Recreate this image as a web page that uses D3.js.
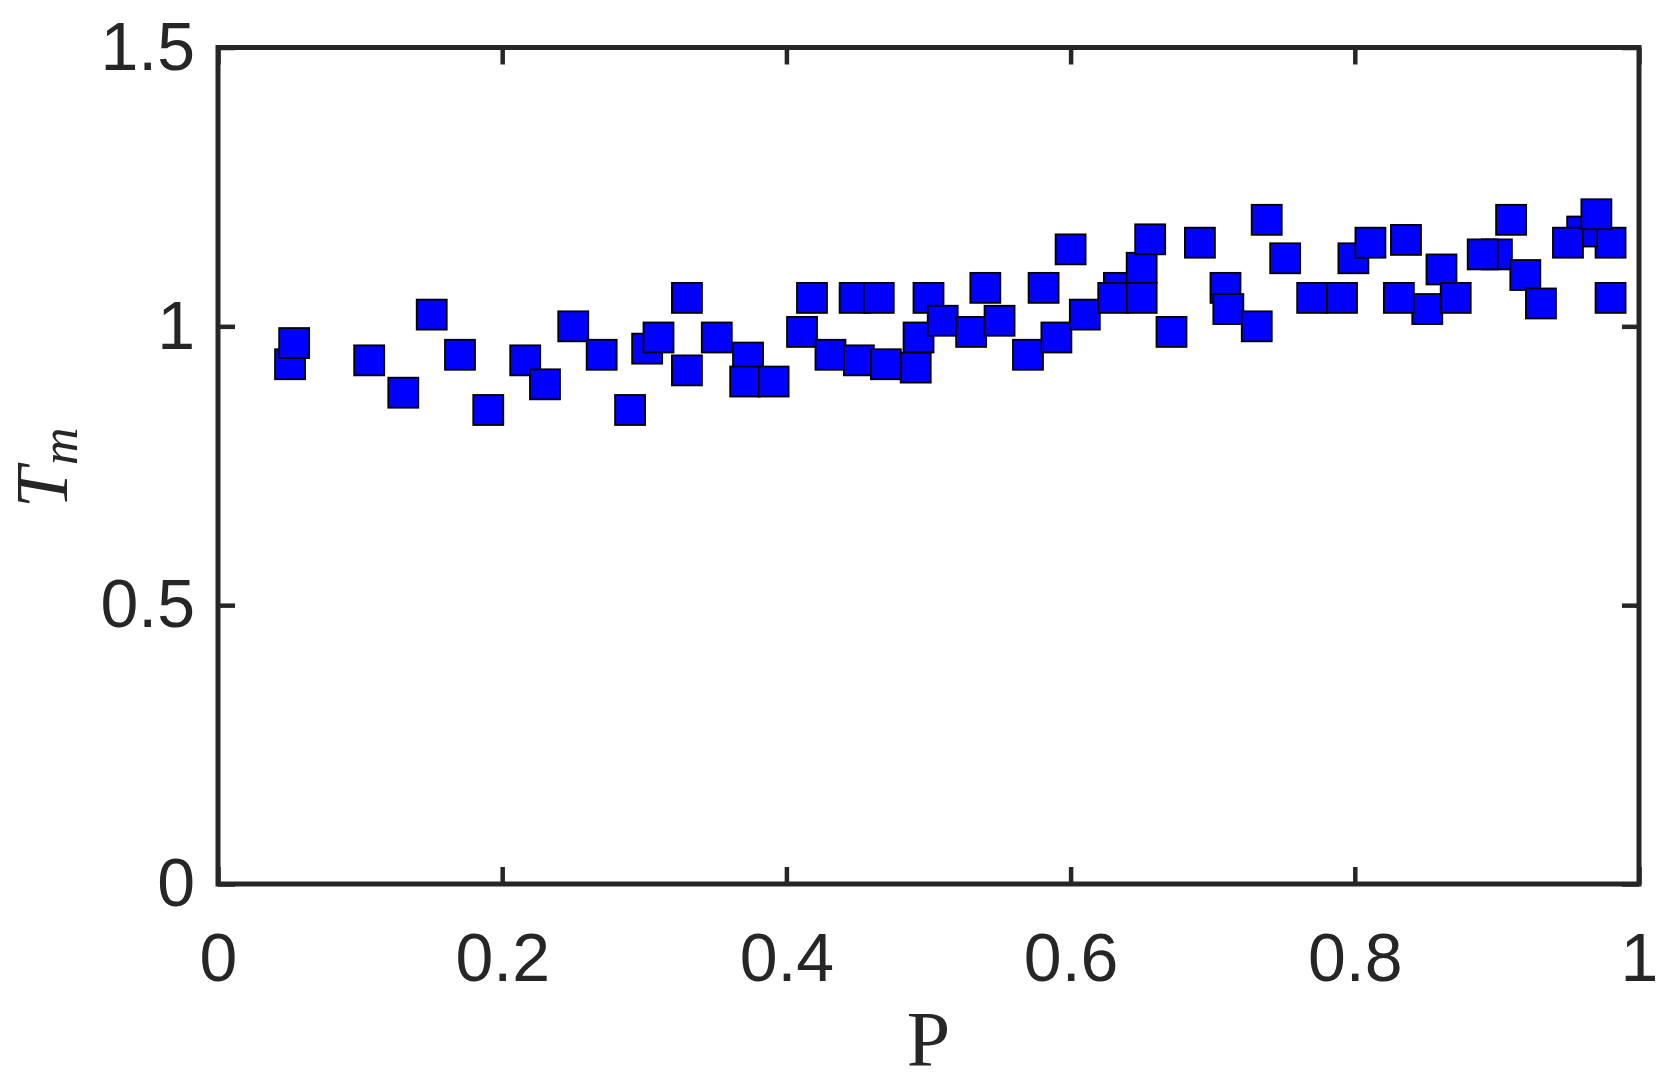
<!DOCTYPE html>
<html>
<head>
<meta charset="utf-8">
<script src="https://cdn.jsdelivr.net/npm/d3@7"></script>
<style>
  body { margin: 0; background: #fff; }
  .tick text { font-family: "Liberation Sans", Arial, Helvetica, sans-serif; font-size: 68px; fill: #262626; }
  .tick line { stroke: #262626; stroke-width: 4.5; }
</style>
</head>
<body>
<svg width="1669" height="1082"></svg>
<script>
// data (P, Tm), in drawing order
var pValues = [0.0507, 0.0536, 0.1064, 0.1304, 0.1504, 0.1703, 0.1902, 0.2162, 0.2301, 0.250,
               0.270, 0.290, 0.302, 0.310, 0.330, 0.330, 0.351, 0.373, 0.371, 0.391,
               0.411, 0.418, 0.431, 0.448, 0.465, 0.451, 0.470, 0.493, 0.491, 0.500,
               0.510, 0.530, 0.540, 0.550, 0.570, 0.581, 0.600, 0.590, 0.610, 0.634,
               0.630, 0.650, 0.650, 0.656, 0.671, 0.691, 0.709, 0.711, 0.731, 0.738,
               0.751, 0.770, 0.791, 0.799, 0.811, 0.836, 0.851, 0.831, 0.861, 0.871,
               0.900, 0.890, 0.910, 0.920, 0.931, 0.980, 0.960, 0.950, 0.970, 0.980];
var tmValues = [0.932, 0.970, 0.939, 0.881, 1.021, 0.949, 0.850, 0.939, 0.896, 1.000,
                0.949, 0.850, 0.960, 0.980, 1.051, 0.921, 0.980, 0.944, 0.901, 0.901,
                0.990, 1.051, 0.949, 1.051, 1.051, 0.939, 0.932, 0.980, 0.926, 1.051,
                1.010, 0.990, 1.069, 1.010, 0.949, 1.069, 1.138, 0.980, 1.021, 1.069,
                1.051, 1.105, 1.051, 1.156, 0.990, 1.150, 1.069, 1.031, 1.000, 1.191,
                1.122, 1.051, 1.051, 1.122, 1.150, 1.155, 1.031, 1.051, 1.102, 1.051,
                1.129, 1.129, 1.191, 1.092, 1.041, 1.150, 1.170, 1.150, 1.201, 1.051];
var xTicks = [0, 0.2, 0.4, 0.6, 0.8, 1];
var xTickLabels = ["0", "0.2", "0.4", "0.6", "0.8", "1"];
var yTicks = [0, 0.5, 1, 1.5];
var yTickLabels = ["0", "0.5", "1", "1.5"];

var svg = d3.select("svg");

var x = d3.scaleLinear().domain([0, 1]).range([218, 1639]);
var y = d3.scaleLinear().domain([0, 1.5]).range([884, 47.5]);

var pts = pValues.map(function(p, i) { return {p: p, t: tmValues[i]}; });

// markers
var side = 30;
svg.append("g").selectAll("rect")
  .data(pts)
  .enter().append("rect")
    .attr("x", function(d) { return x(d.p) - side / 2; })
    .attr("y", function(d) { return y(d.t) - side / 2; })
    .attr("width", side)
    .attr("height", side)
    .attr("fill", "#0000ff")
    .attr("stroke", "#000")
    .attr("stroke-width", 1.8);

// axes, ticks pointing inward on all four sides
svg.append("g")
    .attr("transform", "translate(0," + y(0) + ")")
    .call(d3.axisBottom(x).tickValues(xTicks).tickSizeInner(-17).tickSizeOuter(0).tickPadding(49)
      .tickFormat(function(d, i) { return xTickLabels[i]; }))
  .select(".domain").remove();

svg.append("g")
    .attr("transform", "translate(0," + y(1.5) + ")")
    .call(d3.axisTop(x).tickValues(xTicks).tickSizeInner(-17).tickSizeOuter(0).tickFormat(""))
  .select(".domain").remove();

svg.append("g")
    .attr("transform", "translate(" + x(0) + ",0)")
    .call(d3.axisLeft(y).tickValues(yTicks).tickSizeInner(-17).tickSizeOuter(0).tickPadding(23)
      .tickFormat(function(d, i) { return yTickLabels[i]; }))
  .select(".domain").remove();

svg.append("g")
    .attr("transform", "translate(" + x(1) + ",0)")
    .call(d3.axisRight(y).tickValues(yTicks).tickSizeInner(-17).tickSizeOuter(0).tickFormat(""))
  .select(".domain").remove();

// box
svg.append("rect")
    .attr("x", x(0))
    .attr("y", y(1.5))
    .attr("width", x(1) - x(0))
    .attr("height", y(0) - y(1.5))
    .attr("fill", "none")
    .attr("stroke", "#262626")
    .attr("stroke-width", 5);

// axis titles
svg.append("text")
    .attr("x", (x(0) + x(1)) / 2)
    .attr("y", 1065)
    .attr("text-anchor", "middle")
    .attr("font-family", "'Liberation Serif', 'Times New Roman', serif")
    .attr("font-size", 78)
    .attr("fill", "#262626")
    .text("P");

var yl = svg.append("text")
    .attr("transform", "translate(67," + ((y(0) + y(1.5)) / 2 + 2) + ") rotate(-90)")
    .attr("text-anchor", "middle")
    .attr("font-family", "'Liberation Serif', 'Times New Roman', serif")
    .attr("font-style", "italic")
    .attr("fill", "#262626");
yl.append("tspan").attr("font-size", 74).text("T");
yl.append("tspan").attr("font-size", 52).attr("dy", 10).attr("dx", 2).text("m");
</script>
</body>
</html>
